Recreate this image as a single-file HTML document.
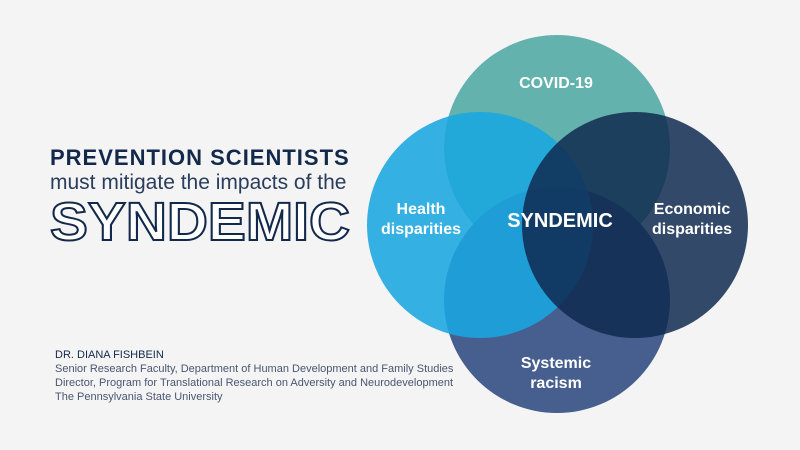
<!DOCTYPE html>
<html><head><style>
body{margin:0;width:800px;height:450px;background:#f4f4f4;position:relative;overflow:hidden;font-family:"Liberation Sans",sans-serif}
.t{position:absolute;white-space:nowrap}
</style></head><body>
<div class="t" style="left:50px;top:145px;font-size:22px;font-weight:bold;color:#13294b;letter-spacing:1px;">PREVENTION SCIENTISTS</div>
<div class="t" style="left:50px;top:171px;font-size:21px;color:#2a3d5c;font-weight:300;">must mitigate the impacts of the</div>
<svg width="800" height="450" style="position:absolute;left:0;top:0">
<text x="200" y="240" text-anchor="middle" font-family="Liberation Sans" font-weight="bold" font-size="54" fill="#fff" stroke="#13294b" stroke-width="2" textLength="300" lengthAdjust="spacingAndGlyphs">SYNDEMIC</text>
<circle cx="557" cy="148" r="113" fill="#64b2ad"/>
<circle cx="557" cy="300" r="113" fill="#465f8f"/>
<circle cx="480" cy="225" r="113" fill="#1aa6e0" fill-opacity="0.88"/>
<circle cx="635" cy="225" r="113" fill="#0f2a50" fill-opacity="0.85"/>
<g font-family="Liberation Sans" font-weight="bold" fill="#fff" text-anchor="middle">
<text x="556" y="88" font-size="16">COVID-19</text>
<text x="421" y="214" font-size="16">Health</text>
<text x="421" y="234" font-size="16">disparities</text>
<text x="692" y="214" font-size="16">Economic</text>
<text x="692" y="234" font-size="16">disparities</text>
<text x="556" y="368" font-size="16">Systemic</text>
<text x="556" y="388" font-size="16">racism</text>
<text x="560" y="227" font-size="20">SYNDEMIC</text>
</g>
</svg>
<div class="t" style="left:55px;top:348px;font-size:11px;line-height:14px;color:#4a5570;">
<span style="color:#13294b">DR. DIANA FISHBEIN</span><br>Senior Research Faculty, Department of Human Development and Family Studies<br>Director, Program for Translational Research on Adversity and Neurodevelopment<br>The Pennsylvania State University</div>
</body></html>
